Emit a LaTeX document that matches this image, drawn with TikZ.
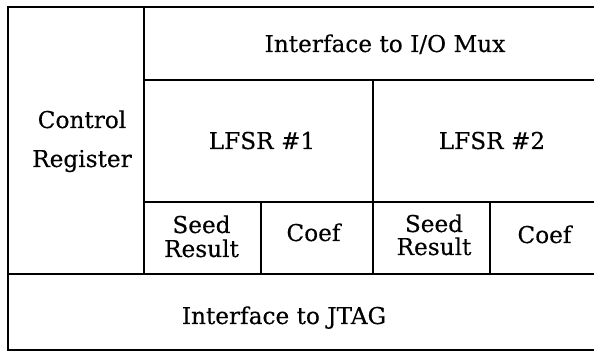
\documentclass[tikz,border=0pt]{standalone}
\usepackage{fontspec}
\setmainfont[FakeBold=0.3]{DejaVu Serif}
\begin{document}
\begin{tikzpicture}[x=1pt,y=-1pt,
  box/.style={draw=black, line width=2pt, rectangle, inner sep=0pt, outer sep=0pt, anchor=north west},
  lbl/.style={anchor=base, inner sep=0pt, font=\fontsize{23.2}{24}\selectfont}]
\path[use as bounding box, fill=white] (0,0) rectangle (594,352);
\clip (0,0) rectangle (594,352);
\node[box, minimum width=136pt, minimum height=267pt] (ctrl) at (8,7) {};
\node[box, minimum width=462pt, minimum height=73pt] (io) at (144,7) {};
\node[box, minimum width=229pt, minimum height=122pt] (l1) at (144,80) {};
\node[box, minimum width=233pt, minimum height=122pt] (l2) at (373,80) {};
\node[box, minimum width=117pt, minimum height=72pt] (s1) at (144,202) {};
\node[box, minimum width=112pt, minimum height=72pt] (c1) at (261,202) {};
\node[box, minimum width=117pt, minimum height=72pt] (s2) at (373,202) {};
\node[box, minimum width=116pt, minimum height=72pt] (c2) at (490,202) {};
\node[box, minimum width=598pt, minimum height=76pt] (jtag) at (8,274) {};
\node[lbl] (tctrl) at (82,128) {Control};
\node[lbl] (treg) at (82,167) {Register};
\node[lbl] (tio) at (385,52) {Interface to I/O Mux};
\node[lbl] (tl1) at (262,149) {LFSR \#1};
\node[lbl] (tl2) at (492,149) {LFSR \#2};
\node[lbl] (tseed1) at (201.5,233) {Seed};
\node[lbl] (tres1) at (201.5,257) {Result};
\node[lbl] (tc1) at (313.5,241) {Coef};
\node[lbl] (tseed2) at (434,232) {Seed};
\node[lbl] (tres2) at (434,255) {Result};
\node[lbl] (tc2) at (544.5,243) {Coef};
\node[lbl] (tjtag) at (284,324) {Interface to JTAG};
\end{tikzpicture}
\end{document}
